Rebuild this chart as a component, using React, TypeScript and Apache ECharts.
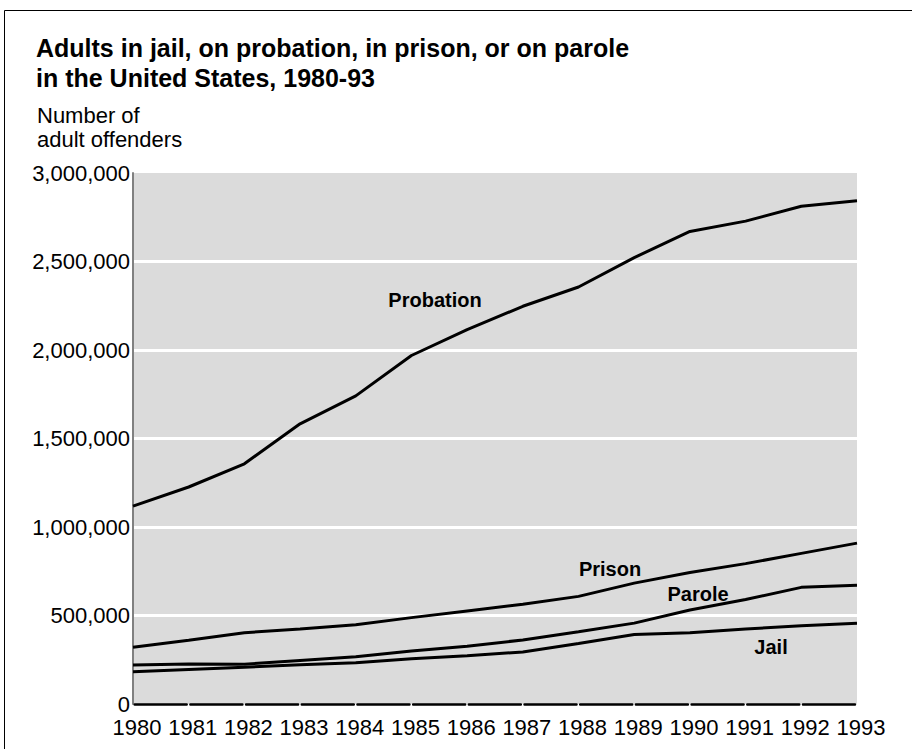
import React, { useEffect, useRef } from "react";
import * as echarts from "echarts";

const years = ["1980","1981","1982","1983","1984","1985","1986","1987","1988","1989","1990","1991","1992","1993"];
const probation = [1118000,1226000,1357000,1583000,1741000,1969000,2115000,2247000,2356000,2522000,2670000,2728000,2812000,2843000];
const prison = [320000,360000,403000,424000,448000,488000,526000,563000,608000,683000,743000,793000,851000,909000];
const parole = [220000,226000,225000,246000,267000,300000,326000,362000,408000,457000,531000,590000,659000,671000];
const jail = [182000,195000,208000,222000,233000,255000,273000,294000,342000,393000,403000,424000,442000,456000];
const yTicks = [0, 500000, 1000000, 1500000, 2000000, 2500000, 3000000];

const FONT = "'Liberation Sans', Arial, Helvetica, sans-serif";

export default function App() {
  const ref = useRef<HTMLDivElement>(null);
  useEffect(() => {
    document.body.style.margin = "0";
    const chart = echarts.init(ref.current!, null, { renderer: "svg" });
    const mk = (name: string, data: number[]) => ({
      name,
      type: "line",
      data,
      symbol: "none",
      lineStyle: { color: "#000", width: 3 },
      z: 5,
    });
    chart.setOption({
      animation: false,
      backgroundColor: "#fff",
      textStyle: { fontFamily: FONT },
      grid: {
        left: 133, right: 55, top: 173, bottom: 45,
        show: true, backgroundColor: "#dbdbdb", borderWidth: 0,
      },
      xAxis: {
        type: "category",
        data: years,
        boundaryGap: false,
        axisLine: {
          show: true,
          lineStyle: { color: "#000", width: 2.5, type: [52, 3.69], dashOffset: 53.85 },
        },
        axisTick: { show: false },
        axisLabel: { color: "#000", fontSize: 22, fontFamily: FONT, margin: 12, interval: 0, padding: [0, 0, 0, 8] },
        splitLine: { show: false },
      },
      yAxis: {
        type: "value",
        min: yTicks[0],
        max: yTicks[yTicks.length - 1],
        interval: 500000,
        axisLine: { show: true, lineStyle: { color: "#808080", width: 2 } },
        axisTick: { show: false },
        axisLabel: {
          color: "#000", fontSize: 22, fontFamily: FONT, margin: 3,
          formatter: (v: number) => v.toLocaleString("en-US"),
        },
        splitLine: { show: true, showMinLine: false, showMaxLine: false, lineStyle: { color: "#fff", width: 3 } },
      },
      series: [mk("Probation", probation), mk("Prison", prison), mk("Parole", parole), mk("Jail", jail)],
      graphic: [
        { type: "rect", shape: { x: 4.5, y: 10.5, width: 1000, height: 1000 }, style: { fill: "none", stroke: "#000", lineWidth: 1 }, z: 100 },
        { type: "text", x: 36, y: 48, style: { text: "Adults in jail, on probation, in prison, or on parole", font: `bold 25px ${FONT}`, fill: "#000", verticalAlign: "middle" } },
        { type: "text", x: 36, y: 78, style: { text: "in the United States, 1980-93", font: `bold 25px ${FONT}`, fill: "#000", verticalAlign: "middle" } },
        { type: "text", x: 37, y: 115, style: { text: "Number of", font: `22px ${FONT}`, fill: "#000", verticalAlign: "middle" } },
        { type: "text", x: 37, y: 139, style: { text: "adult offenders", font: `22px ${FONT}`, fill: "#000", verticalAlign: "middle" } },
        { type: "text", x: 435, y: 300, style: { text: "Probation", font: `bold 20px ${FONT}`, fill: "#000", align: "center", verticalAlign: "middle" }, z: 10 },
        { type: "text", x: 610, y: 569, style: { text: "Prison", font: `bold 20px ${FONT}`, fill: "#000", align: "center", verticalAlign: "middle" }, z: 10 },
        { type: "text", x: 698, y: 594, style: { text: "Parole", font: `bold 20px ${FONT}`, fill: "#000", align: "center", verticalAlign: "middle" }, z: 10 },
        { type: "text", x: 771, y: 647, style: { text: "Jail", font: `bold 20px ${FONT}`, fill: "#000", align: "center", verticalAlign: "middle" }, z: 10 },
      ],
    });
    return () => chart.dispose();
  }, []);
  return <div ref={ref} style={{ position: "absolute", left: 0, top: 0, width: 912, height: 749 }} />;
}
